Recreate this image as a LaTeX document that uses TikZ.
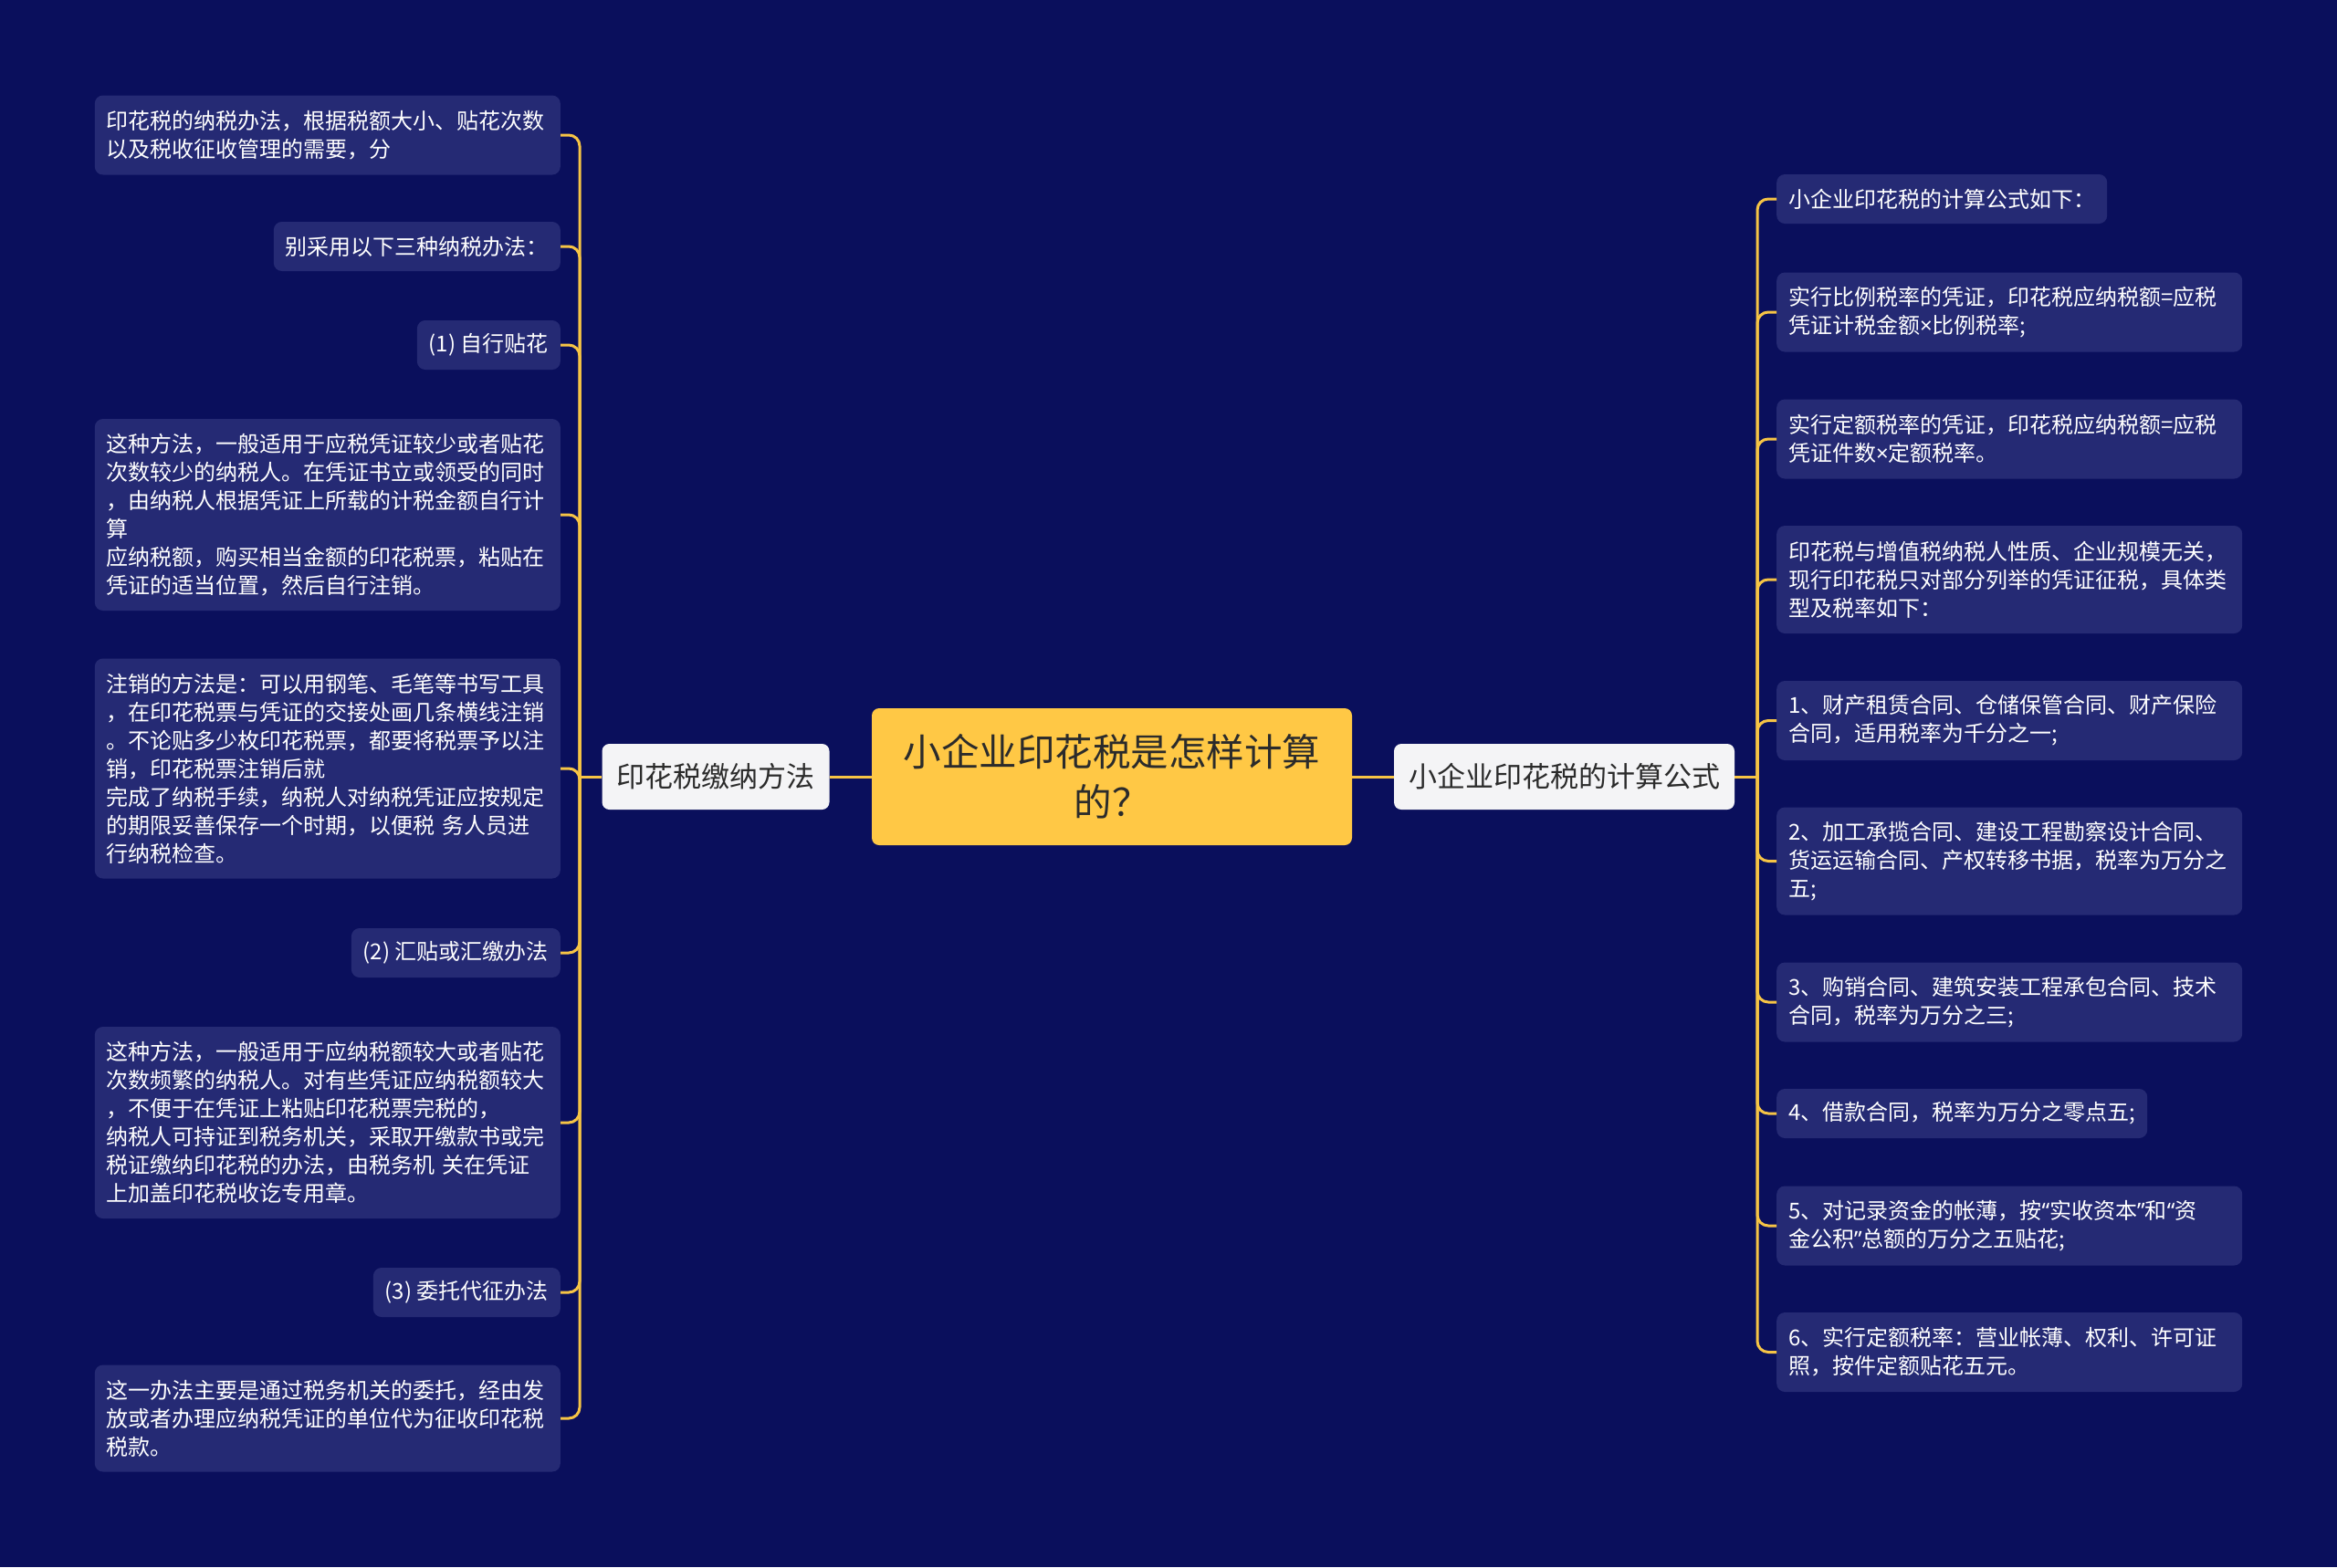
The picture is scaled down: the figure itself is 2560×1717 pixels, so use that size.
\documentclass[tikz,border=0pt]{standalone}
\usepackage{fontspec}
\setmainfont{Noto Sans CJK SC}
\newfontfamily\latinfont{Noto Sans}
\usepackage{xcolor}
\usepackage{tikz}
\usetikzlibrary{positioning,calc}
\definecolor{bgnavy}{HTML}{0A0F5C}
\definecolor{leaffill}{HTML}{252A74}
\definecolor{linegold}{HTML}{F6C445}
\definecolor{rootgold}{HTML}{FFC845}
\definecolor{branchfill}{HTML}{F4F4F6}
\definecolor{darktext}{HTML}{2B2B2B}
\newcommand\narrowch[1]{{\latinfont #1}}
\tikzset{
  root/.style     = {fill=rootgold, rounded corners=8pt, align=center, text=darktext,
                     font=\fontsize{41.5}{55}\selectfont, text width=460pt,
                     inner xsep=33pt, inner ysep=4pt, minimum height=150pt},
  branch/.style   = {fill=branchfill, rounded corners=8pt, text=darktext,
                     font=\fontsize{31}{38}\selectfont, inner xsep=16pt,
                     inner ysep=4pt, minimum height=72pt},
  leaf/.style     = {fill=leaffill, rounded corners=9pt, text=white, align=left,
                     font=\fontsize{24}{31}\selectfont, inner xsep=13pt,
                     inner ysep=4pt, minimum height=54pt},
  wideleaf/.style = {leaf, text width=484pt},
  link/.style     = {draw=linegold, line width=3pt, rounded corners=12pt}
}

\begin{document}
\begin{tikzpicture}[x=1pt, y=-1pt]

% ---------- canvas ----------
\fill[bgnavy] (0,0) rectangle (2560,1717);
\useasboundingbox (0,0) rectangle (2560,1717);

% trunk and leaf edges
\def\trunkL{635}
\def\trunkR{1925}
\def\leafL{614}
\def\leafR{1946}

% ---------- centre ----------
\node[root] (root) at (1218,851) {小企业印花税是怎样计算\\的？};
\node[branch] (lb) at (784,851) {印花税缴纳方法};
\node[branch] (rb) at (1713.5,851) {小企业印花税的计算公式};

\coordinate (lt) at (\trunkL,851);
\coordinate (rt) at (\trunkR,851);

% ---------- left leaves ----------
\node[wideleaf, minimum height=87pt, anchor=east] (l1) at (\leafL,148)
  {印花税的纳税办法，根据税额大小、贴花次数\\以及税收征收管理的需要，分};
\node[leaf, anchor=east] (l2) at (\leafL,270) {别采用以下三种纳税办法：};
\node[leaf, anchor=east] (l3) at (\leafL,378) {(1) 自行贴花};
\node[wideleaf, minimum height=210pt, anchor=east] (l4) at (\leafL,564)
  {这种方法，一般适用于应税凭证较少或者贴花\\次数较少的纳税人。在凭证书立或领受的同时\\，由纳税人根据凭证上所载的计税金额自行计\\算\\应纳税额，购买相当金额的印花税票，粘贴在\\凭证的适当位置，然后自行注销。};
\node[wideleaf, minimum height=241pt, anchor=east] (l5) at (\leafL,842)
  {注销的方法是：可以用钢笔、毛笔等书写工具\\，在印花税票与凭证的交接处画几条横线注销\\。不论贴多少枚印花税票，都要将税票予以注\\销，印花税票注销后就\\完成了纳税手续，纳税人对纳税凭证应按规定\\的期限妥善保存一个时期，以便税 务人员进\\行纳税检查。};
\node[leaf, anchor=east] (l6) at (\leafL,1044) {(2) 汇贴或汇缴办法};
\node[wideleaf, minimum height=210pt, anchor=east] (l7) at (\leafL,1230)
  {这种方法，一般适用于应纳税额较大或者贴花\\次数频繁的纳税人。对有些凭证应纳税额较大\\，不便于在凭证上粘贴印花税票完税的，\\纳税人可持证到税务机关，采取开缴款书或完\\税证缴纳印花税的办法，由税务机 关在凭证\\上加盖印花税收讫专用章。};
\node[leaf, anchor=east] (l8) at (\leafL,1416) {(3) 委托代征办法};
\node[wideleaf, minimum height=117pt, anchor=east] (l9) at (\leafL,1554)
  {这一办法主要是通过税务机关的委托，经由发\\放或者办理应纳税凭证的单位代为征收印花税\\税款。};

% ---------- right leaves ----------
\node[leaf, anchor=west] (r1) at (\leafR,218) {小企业印花税的计算公式如下：};
\node[wideleaf, minimum height=87pt, anchor=west] (r2) at (\leafR,342)
  {实行比例税率的凭证，印花税应纳税额=应税\\凭证计税金额\narrowch{×}比例税率;};
\node[wideleaf, minimum height=87pt, anchor=west] (r3) at (\leafR,481)
  {实行定额税率的凭证，印花税应纳税额=应税\\凭证件数\narrowch{×}定额税率。};
\node[wideleaf, minimum height=118pt, anchor=west] (r4) at (\leafR,635)
  {印花税与增值税纳税人性质、企业规模无关，\\现行印花税只对部分列举的凭证征税，具体类\\型及税率如下：};
\node[wideleaf, minimum height=87pt, anchor=west] (r5) at (\leafR,789.5)
  {1、财产租赁合同、仓储保管合同、财产保险\\合同，适用税率为千分之一;};
\node[wideleaf, minimum height=118pt, anchor=west] (r6) at (\leafR,943.5)
  {2、加工承揽合同、建设工程勘察设计合同、\\货运运输合同、产权转移书据，税率为万分之\\五;};
\node[wideleaf, minimum height=87pt, anchor=west] (r7) at (\leafR,1098)
  {3、购销合同、建筑安装工程承包合同、技术\\合同，税率为万分之三;};
\node[leaf, anchor=west] (r8) at (\leafR,1220) {4、借款合同，税率为万分之零点五;};
\node[wideleaf, minimum height=87pt, anchor=west] (r9) at (\leafR,1343)
  {5、对记录资金的帐薄，按\narrowch{“}实收资本\narrowch{”}和\narrowch{“}资\\金公积\narrowch{”}总额的万分之五贴花;};
\node[wideleaf, minimum height=87pt, anchor=west] (r10) at (\leafR,1481.5)
  {6、实行定额税率：营业帐薄、权利、许可证\\照，按件定额贴花五元。};

% ---------- connectors ----------
\draw[link] (root.west) -- (lb.east);
\draw[link] (root.east) -- (rb.west);
\draw[link] (lb.west) -- (lt);
\draw[link] (rb.east) -- (rt);
\foreach \i in {1,...,9} { \draw[link] (lt) |- (l\i.east); }
\foreach \i in {1,...,10} { \draw[link] (rt) |- (r\i.west); }

\end{tikzpicture}
\end{document}
